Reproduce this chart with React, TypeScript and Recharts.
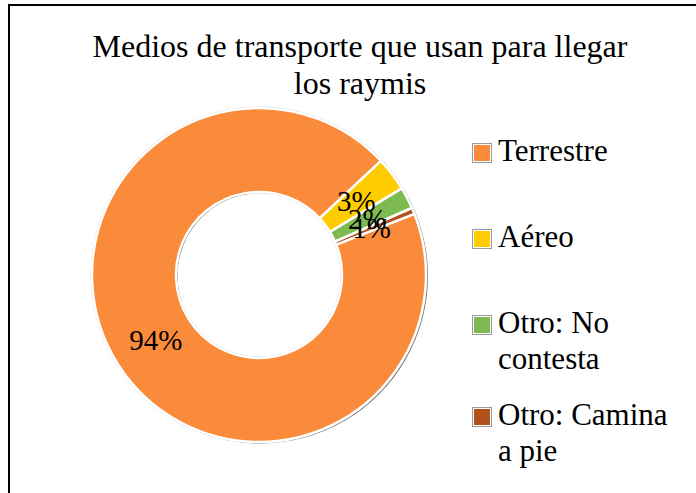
import { Cell, Pie, PieChart } from "recharts";

const categories = ["Terrestre", "Aéreo", "Otro: No contesta", "Otro: Camina a pie"];
const shares = [94, 3.3, 2.1, 0.6];
const colors = ["#F98B3B", "#FFCC00", "#7DBA4F", "#B1521B"];
const titleLines = ["Medios de transporte que usan para llegar", "los raymis"];

const data = categories.map((name, i) => ({ name, value: shares[i] }));
const ring = [{ name: "ring", value: 1 }];

const RAD = Math.PI / 180;
const FONT = "'Liberation Serif', 'DejaVu Serif', serif";
const CX = 259;
const CY = 275;
const INNER = 83;
const OUTER = 167;

// legend rows, top of each entry in px
const legendTop = [133, 219, 305, 397];

function renderLabel(props: any) {
  const { cx, cy, midAngle, innerRadius, outerRadius, percent } = props;
  const r = (innerRadius + outerRadius) / 2 - 3;
  const x = cx + r * Math.cos(-midAngle * RAD);
  const y = cy + r * Math.sin(-midAngle * RAD);
  return (
    <text
      x={x}
      y={y}
      textAnchor="middle"
      dominantBaseline="central"
      style={{ fontFamily: FONT, fontSize: 29 }}
      fill="#000"
    >
      {Math.round(percent * 100)}%
    </text>
  );
}

export default function App() {
  return (
    <div
      style={{
        position: "absolute",
        left: 0,
        top: 0,
        width: 696,
        height: 493,
        background: "#fff",
        overflow: "hidden",
        fontFamily: FONT,
      }}
    >
      <div
        style={{
          position: "absolute",
          left: 8,
          top: 4,
          width: 700,
          height: 500,
          borderTop: "2.5px solid #000",
          borderLeft: "2.5px solid #000",
        }}
      />
      <div
        style={{
          position: "absolute",
          left: 60,
          top: 28,
          width: 600,
          textAlign: "center",
          fontSize: 32,
          lineHeight: "37px",
          color: "#000",
        }}
      >
        {titleLines.map((t) => (
          <div key={t}>{t}</div>
        ))}
      </div>

      <div style={{ position: "absolute", left: 0, top: 0 }}>
        <PieChart width={696} height={493} margin={{ top: 0, right: 0, bottom: 0, left: 0 }}>
          <Pie
            data={ring}
            dataKey="value"
            cx={CX}
            cy={CY}
            innerRadius={INNER - 1.5}
            outerRadius={OUTER + 1.5}
            fill="#d6d6d6"
            stroke="none"
            isAnimationActive={false}
            legendType="none"
          />
          <Pie
            data={ring}
            dataKey="value"
            cx={CX + 1.5}
            cy={CY + 1}
            innerRadius={INNER}
            outerRadius={OUTER + 0.5}
            fill="#7a7a7a"
            stroke="none"
            isAnimationActive={false}
            legendType="none"
          />
          <Pie
            data={data}
            dataKey="value"
            nameKey="name"
            cx={CX}
            cy={CY}
            innerRadius={INNER}
            outerRadius={OUTER}
            startAngle={21.5}
            endAngle={-338.5}
            stroke="#fff"
            strokeWidth={2.5}
            label={renderLabel}
            labelLine={false}
            isAnimationActive={false}
          >
            {data.map((d, i) => (
              <Cell key={d.name} fill={colors[i]} />
            ))}
          </Pie>
        </PieChart>
      </div>

      {categories.map((name, i) => (
        <div
          key={name}
          style={{
            position: "absolute",
            left: 472,
            top: legendTop[i],
            display: "flex",
            alignItems: "flex-start",
            fontSize: 31,
            lineHeight: "36px",
            color: "#000",
          }}
        >
          <div
            style={{
              marginTop: 10,
              width: 16,
              height: 16,
              border: "1.5px solid #9a9a9a",
              padding: 1,
              background: "#fff",
              boxSizing: "content-box",
            }}
          >
            <div style={{ width: 16, height: 16, background: colors[i] }} />
          </div>
          <div style={{ marginLeft: 6, width: 182 }}>{name}</div>
        </div>
      ))}
    </div>
  );
}
